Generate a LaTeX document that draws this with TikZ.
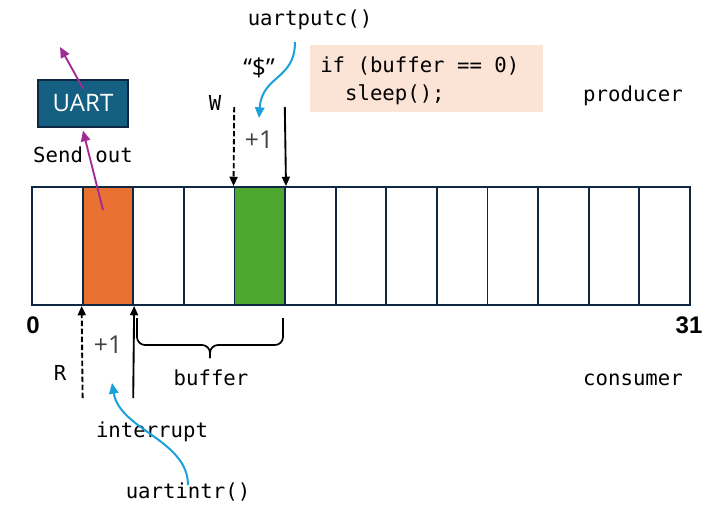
\documentclass[tikz,border=0pt]{standalone}
\usepackage{fontspec}
\setmainfont{Open Sans}
\setmonofont{DejaVu Sans Mono}
\newfontfamily\boldsans{Liberation Sans}
\usetikzlibrary{arrows.meta}
\definecolor{cellline}{HTML}{0E2841}
\definecolor{orangec}{HTML}{E97132}
\definecolor{greenc}{HTML}{4EA72E}
\definecolor{uartfill}{HTML}{156082}
\definecolor{codefill}{HTML}{FBE3D6}
\definecolor{bluec}{HTML}{1AA0DA}
\definecolor{purplec}{HTML}{A02B93}
\definecolor{grayc}{HTML}{404040}
\tikzset{
  cell/.style={draw=cellline, line width=1.4pt, minimum width=37.95pt, minimum height=88.5pt, inner sep=0pt},
  mono/.style={font=\ttfamily\fontsize{15.5}{18}\selectfont, inner sep=0pt},
  sanslbl/.style={font=\fontsize{18.5}{22}\selectfont, inner sep=0pt},
  numlbl/.style={font=\boldsans\bfseries\fontsize{18}{21}\selectfont, inner sep=0pt},
  ptr/.style={line width=1.4pt, -{Triangle[length=7pt,width=6pt]}},
  dsh/.style={dash pattern=on 4pt off 2pt},
  blarrow/.style={bluec, line width=1.5pt, -{Triangle[length=8pt,width=7pt]}},
  plarrow/.style={purplec, line width=1.4pt, -{Triangle[length=8pt,width=7pt]}},
}
\begin{document}
\begin{tikzpicture}[x=0.75pt,y=-0.75pt]
\useasboundingbox (0,0) rectangle (723,511);
% buffer cells
\foreach \i in {0,...,12}{
  \pgfmathsetmacro{\cx}{32+50.615*(\i+0.5)}
  \ifnum\i=1
    \node[cell, fill=orangec] (c\i) at (\cx,246) {};
  \else\ifnum\i=4
    \node[cell, fill=greenc] (c\i) at (\cx,246) {};
  \else
    \node[cell] (c\i) at (\cx,246) {};
  \fi\fi
}
% UART
\node[draw=cellline, line width=1.4pt, fill=uartfill, minimum width=67.5pt, minimum height=35.25pt, inner sep=0pt,
      text=white, font=\fontsize{18}{21}\selectfont] (uart) at (83,103.5) {UART};
\coordinate (out) at (60,47);
\coordinate (orig) at (103,210);
\draw[plarrow] (orig) -- ([yshift=-2pt]uart.south);
\draw[plarrow] ([yshift=-7pt]uart.north) -- (out);
\node[mono] (send) at (83,155) {Send out};

% producer side
\node[mono] (putc) at (310,20) {uartputc()};
\node[sanslbl] (dollar) at (259,68) {“\$”};
\node[mono] (W) at (215,103) {W};
\node[sanslbl, text=grayc] (plus1a) at (259,140) {+1};
\coordinate (wd) at (234.2,107);
\coordinate (ws) at (284.8,107);
\draw[ptr, dsh] (wd) -- (c4.north west);
\draw[ptr] (ws) -- (c4.north east);
\coordinate (putcs) at (295,42);
\coordinate (putct) at (259,118);
\draw[blarrow] (putcs) .. controls (295,80) and (262,75) .. (putct);
\node[fill=codefill, minimum width=174.75pt, minimum height=50.25pt, inner sep=0pt] (code) at (426.5,78.5) {};
\node[mono, anchor=west, align=left] (codetxt) at (320,81) {if (buffer == 0)\\[3pt]\phantom{xx}sleep();};
\node[mono] (prod) at (633,96) {producer};

% indices
\node[numlbl] (zero) at (33,325) {0};
\node[numlbl] (tone) at (689,325) {31};

% consumer side
\coordinate (rd) at (82.6,398);
\coordinate (rs) at (133.2,398);
\draw[ptr, dsh] (rd) -- (c1.south west);
\draw[ptr] (rs) -- (c1.south east);
\node[sanslbl, text=grayc] (plus1b) at (108,345) {+1};
\node[mono] (R) at (60,373) {R};
\draw[line width=1.3pt, rounded corners=6pt] (137,318) -- (137,345) -- (210,345) -- (210,358);
\draw[line width=1.3pt, rounded corners=6pt] (283,318) -- (283,345) -- (210,345) -- (210,358);
\node[mono] (buf) at (211,378) {buffer};
\node[mono] (cons) at (633,380) {consumer};
\node[mono] (intr) at (152,432) {interrupt};
\node[mono] (uintr) at (188,492) {uartintr()};
\coordinate (intrt) at (112,383);
\draw[blarrow] ([yshift=-2pt]uintr.north) .. controls (188,440) and (120,430) .. (intrt);
\end{tikzpicture}
\end{document}
